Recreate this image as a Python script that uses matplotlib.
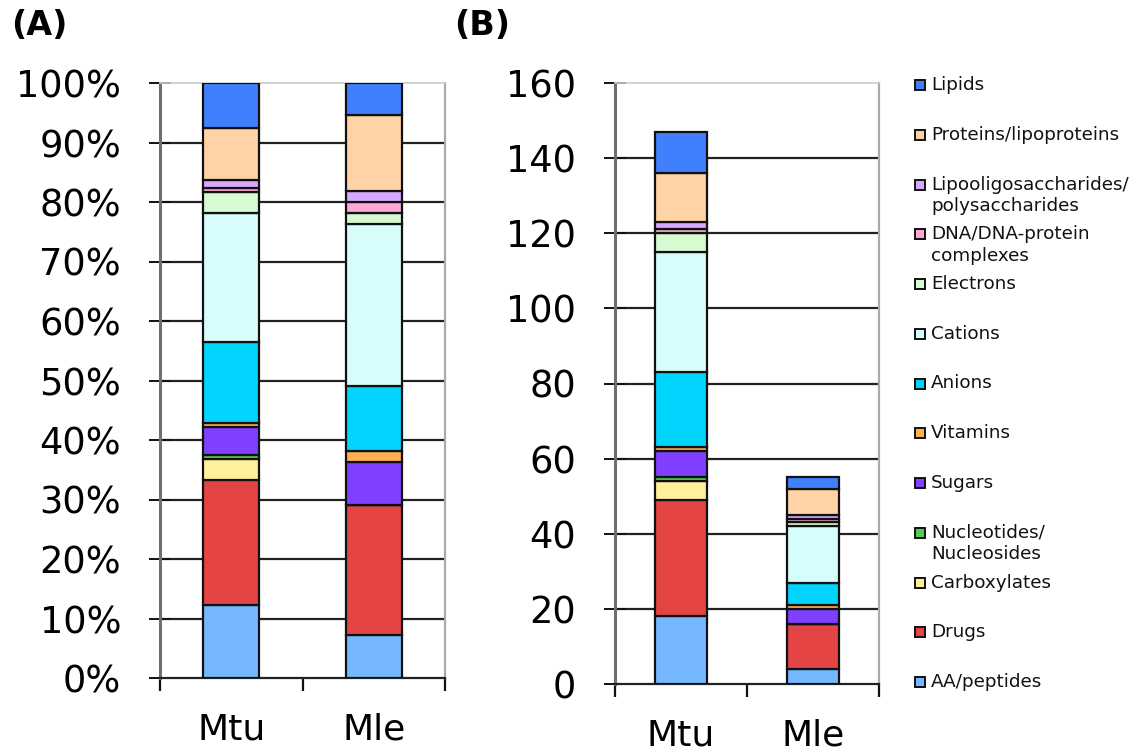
import numpy as np
import matplotlib.pyplot as plt
from matplotlib.patches import Rectangle

# Categories, bottom to top of the stacks
categories = ["AA/peptides", "Drugs", "Carboxylates", "Nucleotides/\nNucleosides",
              "Sugars", "Vitamins", "Anions", "Cations", "Electrons",
              "DNA/DNA-protein\ncomplexes", "Lipooligosaccharides/\npolysaccharides",
              "Proteins/lipoproteins", "Lipids"]
colors = ["#76B8FF", "#E44444", "#FFF09A", "#50D050", "#8040FF", "#FFB050",
          "#00D4FF", "#D6FCFC", "#D6FAD2", "#FFA8D6", "#D6A8FF", "#FFD3A6",
          "#4080FF"]
organisms = ["Mtu", "Mle"]
mtu = [18, 31, 5, 1, 7, 1, 20, 32, 5, 1, 2, 13, 11]
mle = [4, 12, 0, 0, 4, 1, 6, 15, 1, 1, 1, 7, 3]

counts = np.array([mtu, mle], dtype=float)     # shape (2, 13)
pct = counts / counts.sum(axis=1, keepdims=True) * 100

W, H = 1139, 751
fig = plt.figure(figsize=(W / 100, H / 100), dpi=100)
axA = fig.add_axes([160 / W, 1 - 678 / H, 285 / W, 595 / H])
axB = fig.add_axes([615 / W, 1 - 684 / H, 264 / W, 601 / H])


def stacked(ax, data, top, step, fmt):
    x = np.arange(len(organisms))
    bottom = np.zeros(len(organisms))
    for j in range(len(categories)):
        ax.bar(x, data[:, j], bottom=bottom, width=0.39, color=colors[j],
               edgecolor="#111111", linewidth=1.6, zorder=3)
        bottom += data[:, j]
    ax.set_xlim(-0.5, 1.5)
    ax.set_ylim(0, top)
    ticks = np.arange(0, top + step / 2, step)
    ax.set_yticks(ticks)
    ax.set_yticklabels([fmt(t) for t in ticks])
    for t in ticks[1:-1]:
        ax.axhline(t, color="#222222", linewidth=1.6, zorder=1)
    ax.set_xticks(x)
    ax.set_xticklabels(organisms)
    ax.set_xticks([-0.5, 0.5, 1.5], minor=True)
    ax.tick_params(axis="x", which="major", length=0, pad=25, labelsize=26)
    ax.tick_params(axis="x", which="minor", length=9, width=1.6,
                   direction="out", color="#111111")
    ax.tick_params(axis="y", direction="inout", length=16, width=1.4,
                   color="#111111", pad=20, labelsize=26.5)
    ax.spines["left"].set_color("#6f6f6f")
    ax.spines["left"].set_linewidth(2.2)
    ax.spines["bottom"].set_color("#222222")
    ax.spines["bottom"].set_linewidth(1.6)
    ax.spines["right"].set_color("#aaaaaa")
    ax.spines["right"].set_linewidth(1.6)
    ax.spines["top"].set_color("#cccccc")
    ax.spines["top"].set_linewidth(1.2)


stacked(axA, pct, 100, 10, lambda t: f"{int(t)}%")
stacked(axB, counts, 160, 20, lambda t: f"{int(t)}")

fig.text(11 / W, 1 - 9 / H, "(A)", fontsize=24, fontweight="bold", va="top")
fig.text(454 / W, 1 - 9 / H, "(B)", fontsize=24, fontweight="bold", va="top")

# Legend (top entry = top of stack)
lax = fig.add_axes([880 / W, 0, (W - 880) / W, 1])
lax.set_xlim(880, W)
lax.set_ylim(H, 0)
lax.axis("off")
for i, j in enumerate(range(len(categories) - 1, -1, -1)):
    yc = 85 + i * 49.75
    lax.add_patch(Rectangle((915, yc - 5), 10, 10, facecolor=colors[j],
                            edgecolor="#111111", linewidth=1.4))
    for k, line in enumerate(categories[j].split("\n")):
        lax.text(931, yc + k * 21.5, line, fontsize=13.2, va="center",
                 ha="left", color="#111111")

fig.savefig("out.png", dpi=100)
